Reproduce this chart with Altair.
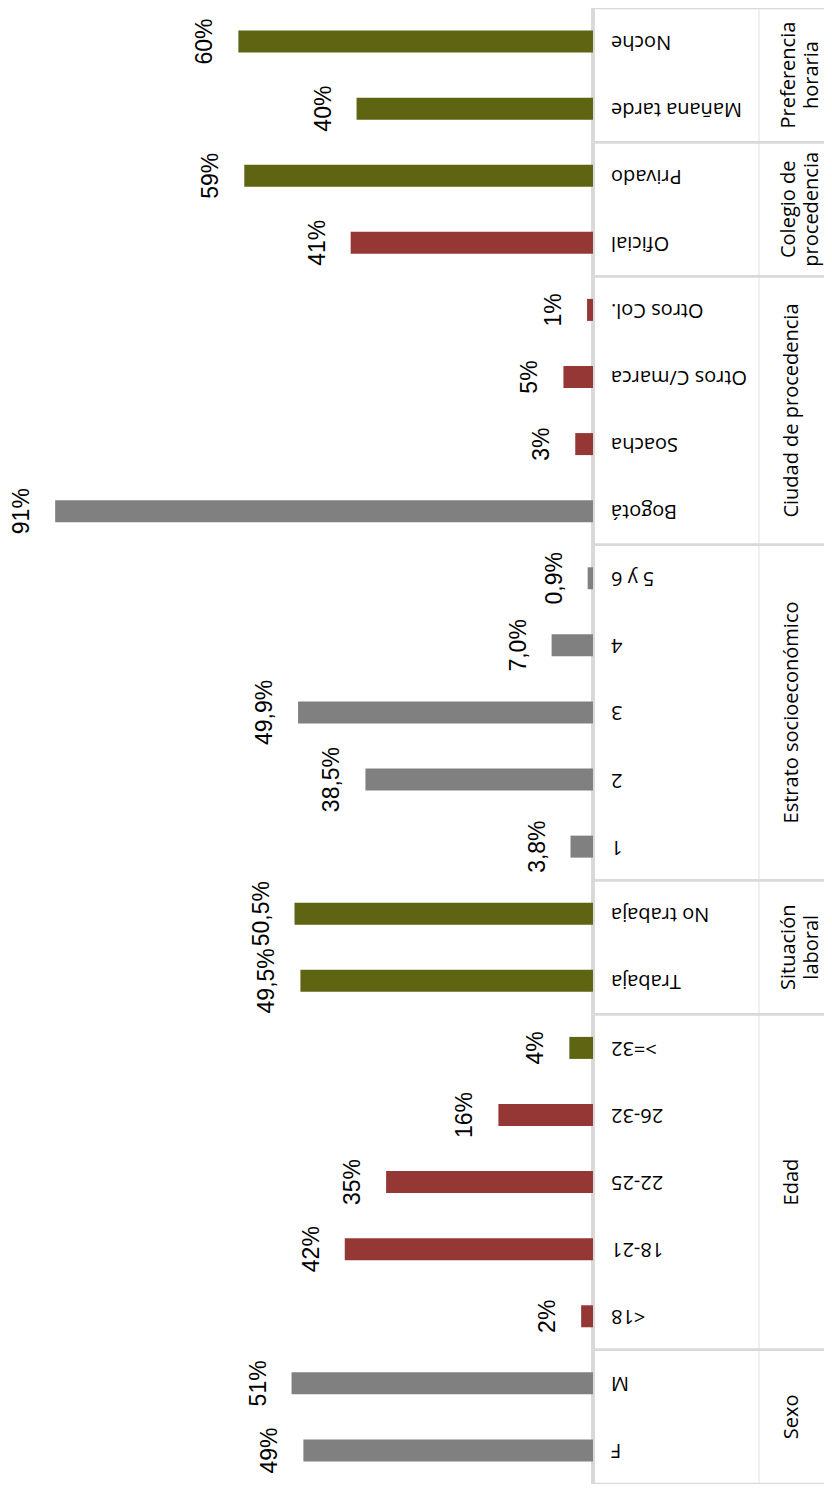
import altair as alt
import pandas as pd

# ---- data (listed bottom to top, as in the original chart) ----
categorias = ["F", "M", "<18", "18-21", "22-25", "26-32", ">=32", "Trabaja", "No trabaja",
              "1", "2", "3", "4", "5 y 6", "Bogotá", "Soacha", "Otros C/marca", "Otros Col.",
              "Oficial", "Privado", "Mañana  tarde", "Noche"]
grupos = (["Sexo"] * 2 + ["Edad"] * 5 + ["Situación laboral"] * 2 + ["Estrato socioeconómico"] * 5
          + ["Ciudad de procedencia"] * 4 + ["Colegio de procedencia"] * 2 + ["Preferencia horaria"] * 2)
valores = [49, 51, 2, 42, 35, 16, 4, 49.5, 50.5, 3.8, 38.5, 49.9, 7.0, 0.9, 91, 3, 5, 1, 41, 59, 40, 60]
etiquetas = ["49%", "51%", "2%", "42%", "35%", "16%", "4%", "49,5%", "50,5%", "3,8%", "38,5%",
             "49,9%", "7,0%", "0,9%", "91%", "3%", "5%", "1%", "41%", "59%", "40%", "60%"]
tonos = ["gris", "gris", "rojo", "rojo", "rojo", "rojo", "oliva", "oliva", "oliva",
         "gris", "gris", "gris", "gris", "gris", "gris", "rojo", "rojo", "rojo",
         "rojo", "oliva", "oliva", "oliva"]

grupo_nombres = ["Sexo", "Edad", "Situación laboral", "Estrato socioeconómico",
                 "Ciudad de procedencia", "Colegio de procedencia", "Preferencia horaria"]
grupo_textos = ["Sexo", "Edad", "Situación\nlaboral", "Estrato socioeconómico",
                "Ciudad de procedencia", "Colegio de\nprocedencia", "Preferencia\nhoraria"]

# ---- tables ----
df = pd.DataFrame({"categoria": categorias, "grupo": grupos, "valor": valores,
                   "etiqueta": etiquetas, "tono": tonos})
df["cero"] = 0.0
orden = categorias[::-1]  # top to bottom

filas = []
for nombre, texto in zip(grupo_nombres, grupo_textos):
    miembros = [c for c, g in zip(categorias, grupos) if g == nombre][::-1]  # top to bottom
    n = len(miembros)
    if n % 2:
        ancla, tipo = miembros[n // 2], "impar"
    else:
        ancla, tipo = miembros[n // 2 - 1], "par"
    if "\n" in texto:
        tipo += "_multi"
    filas.append({"grupo": nombre, "texto": texto, "superior": miembros[0],
                  "inferior": miembros[-1], "ancla": ancla, "tipo": tipo})
dg = pd.DataFrame(filas)

W, H = 816, 1476
BASE = 585  # pixel of value 0
yscale = alt.Scale(domain=orden, paddingInner=0, paddingOuter=0)
xscale = alt.Scale(domain=[-39.09, 98.98], reverse=True, nice=False, zero=False)
Y = alt.Y("categoria:N", scale=yscale, axis=None)
LINE = "#D9D9D9"

barras = alt.Chart(df).mark_bar(size=22).encode(
    x=alt.X("valor:Q", scale=xscale, axis=None),
    x2="cero:Q",
    y=Y,
    color=alt.Color("tono:N", legend=None,
                    scale=alt.Scale(domain=["gris", "rojo", "oliva"],
                                    range=["#808080", "#953735", "#5E6411"])),
)

valores_txt = alt.Chart(df).mark_text(
    angle=270, align="center", baseline="alphabetic", dy=-26,
    font="Liberation Sans", fontSize=23, color="#000000"
).encode(x=alt.X("valor:Q", scale=xscale, axis=None), y=Y, text="etiqueta:N")

cat_txt = alt.Chart(df).mark_text(
    angle=180, align="right", baseline="middle", font="Open Sans", fontSize=20, color="#000000"
).encode(x=alt.value(603), y=Y, text="categoria:N")

separadores = alt.Chart(dg).mark_rule(color=LINE, strokeWidth=2.5).encode(
    x=alt.value(BASE), x2=alt.value(W),
    y=alt.Y("superior:N", bandPosition=0, scale=yscale, axis=None),
)
fondo = alt.Chart(dg).mark_rule(color=LINE, strokeWidth=2.5).encode(
    x=alt.value(BASE), x2=alt.value(W),
    y=alt.Y("inferior:N", bandPosition=1, scale=yscale, axis=None),
)
eje = alt.Chart(df).mark_rule(color=LINE, strokeWidth=3).encode(
    x=alt.X("cero:Q", scale=xscale, axis=None), y=alt.value(0), y2=alt.value(H)
)
interna = alt.Chart(df).mark_rule(color="#EFEFEF", strokeWidth=1).encode(
    x=alt.value(751), y=alt.value(0), y2=alt.value(H)
)

def grupo_layer(tipo, bp, xpix, lh):
    return alt.Chart(dg).transform_filter(alt.datum.tipo == tipo).mark_text(
        angle=270, align="center", baseline="middle", font="Open Sans", fontSize=20,
        color="#000000", lineBreak="\n", lineHeight=lh
    ).encode(
        x=alt.value(xpix),
        y=alt.Y("ancla:N", bandPosition=bp, scale=yscale, axis=None),
        text="texto:N",
    )

g1 = grupo_layer("impar", 0.5, 784, 23)
g2 = grupo_layer("par", 1, 784, 23)
g3 = grupo_layer("par_multi", 1, 781, 23)

chart = alt.layer(interna, eje, separadores, fondo, barras, valores_txt, cat_txt, g1, g2, g3).properties(
    width=W, height=H, padding=0,
    autosize=alt.AutoSizeParams(type="none"),
).configure_view(strokeWidth=0)

chart.save("out.html", embed_options={"renderer": "svg", "actions": False})
